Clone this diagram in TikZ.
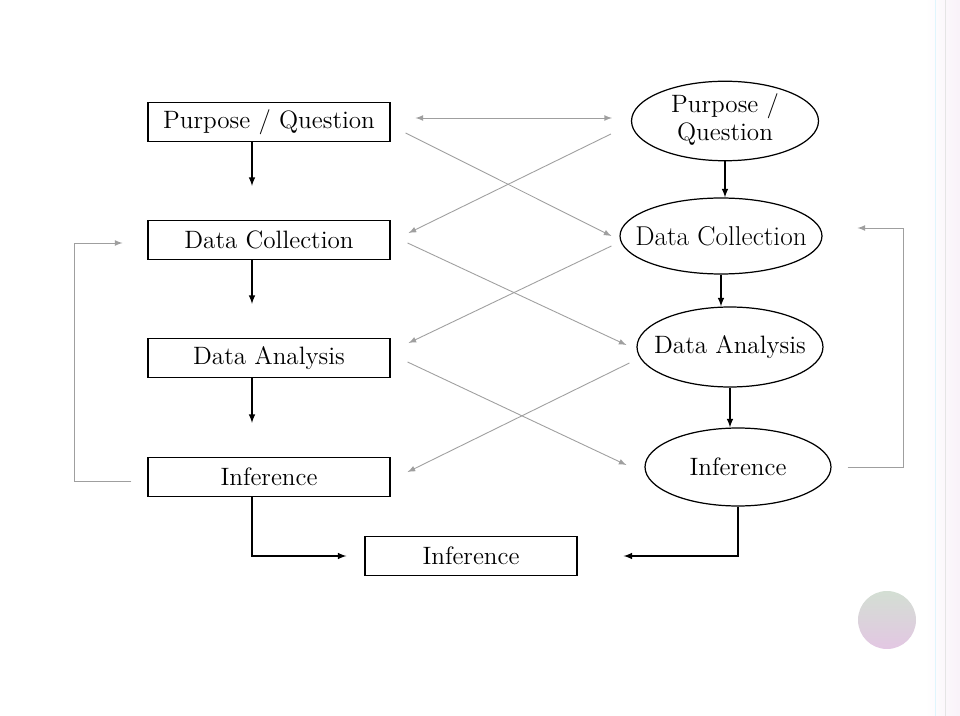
\documentclass[tikz,border=0pt]{standalone}
\usetikzlibrary{shapes.geometric}
\newcommand{\inoval}[1]{\makebox[0pt]{#1}}
\begin{document}
\begin{tikzpicture}[x=0.02cm, y=-0.02cm, font=\fontsize{14.3}{16}\selectfont,
	box/.style={draw, line width=0.7pt, minimum width=4.84cm, minimum height=0.78cm, inner sep=0pt},
	oval/.style={ellipse, draw, line width=0.7pt, inner sep=0pt, minimum width=3.74cm, minimum height=1.56cm},
	flow/.style={-latex, line width=0.7pt},
	cross/.style={-latex, gray!75, line width=0.5pt}]
			\fill[white] (0,0) rectangle (960,716);
			\useasboundingbox (0,0) rectangle (960,716);
			% slide decoration
			\shade[left color=white, right color=violet!5] (925,0) rectangle (960,716);
			\draw[cyan!12] (935,0) -- (935,716);
			\draw[gray!20] (945,0) -- (945,716);
			\shade[top color=green!15!gray!30, bottom color=violet!22] (887,620) circle (0.58cm);
			% left column
			\node[box] (pqL) at (269,122) {Purpose / Question};
			\node[box] (dcL) at (269,240) {Data Collection};
			\node[box] (daL) at (269,358) {Data Analysis};
			\node[box] (infL) at (269,477) {Inference};
			\node[box, minimum width=4.24cm] (inf) at (471,556) {Inference};
			% right column
			\node[oval] (pqR) at (725,121) {\inoval{\begin{tabular}{@{}c@{}}Purpose /\\Question\end{tabular}}};
			\node[oval, minimum width=4.04cm, minimum height=1.52cm] (dcR) at (721,236) {\inoval{\fontsize{15.5}{17}\selectfont Data Collection}};
			\node[oval, minimum width=3.72cm, minimum height=1.6cm] (daR) at (730,347) {\inoval{Data Analysis}};
			\node[oval, minimum width=3.72cm] (infR) at (738,467) {\inoval{Inference}};
			\foreach \a/\b in {pqL/dcL, dcL/daL, daL/infL} \draw[flow, shorten >=0.68cm] ([xshift=-0.34cm]\a.south) -- ([xshift=-0.34cm]\b.north);
			\foreach \a/\b in {pqR/dcR, dcR/daR, daR/infR} \draw[flow] (\a.south) -- (\a.south |- \b.north);
			\draw[flow, shorten >=0.36cm] ([xshift=-0.34cm]infL.south) |- (inf.west);
			\draw[flow, shorten >=0.92cm] (infR.south) |- (inf.east);
			% feedback loops
			\draw[cross] ([xshift=-0.32cm,yshift=-0.08cm]infL.west) -- ++(-57,0) |- ([xshift=-0.5cm,yshift=-0.06cm]dcL.west);
			\draw[cross] ([xshift=0.32cm]infR.east) -- ++(56,0) |- ([xshift=0.7cm,yshift=0.16cm]dcR.east);
			% crossing links
			\draw[cross, latex-latex] ([xshift=0.5cm,yshift=0.08cm]pqL.east) -- ([xshift=-0.38cm,yshift=0.06cm]pqR.west);
			\draw[cross] ([xshift=0.3cm,yshift=-0.22cm]pqL.east) -- ([xshift=-0.16cm]dcR.west);
			\draw[cross] ([xshift=-0.4cm,yshift=-0.26cm]pqR.west) -- ([xshift=0.36cm,yshift=0.14cm]dcL.east);
			\draw[cross] ([xshift=0.34cm,yshift=-0.06cm]dcL.east) -- ([xshift=-0.2cm,yshift=0.04cm]daR.west);
			\draw[cross] ([xshift=-0.16cm,yshift=-0.2cm]dcR.west) -- ([xshift=0.36cm,yshift=0.3cm]daL.east);
			\draw[cross] ([xshift=0.34cm,yshift=-0.08cm]daL.east) -- ([xshift=-0.36cm,yshift=0.04cm]infR.west);
			\draw[cross] ([xshift=-0.14cm,yshift=-0.32cm]daR.west) -- ([xshift=0.34cm,yshift=0.1cm]infL.east);
		\end{tikzpicture}
\end{document}
